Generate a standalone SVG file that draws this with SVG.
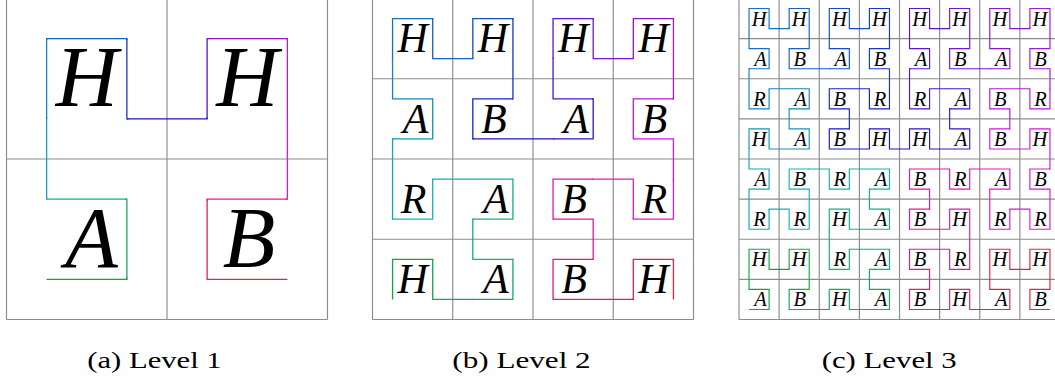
<svg xmlns="http://www.w3.org/2000/svg" width="1055" height="381" viewBox="0 0 1055 381">
<style>
.grid{fill:none;stroke:#8c8c8c;stroke-width:1.15}
.lt{font-family:"Liberation Serif","Times New Roman",serif;font-style:italic;fill:#000;text-anchor:middle}
.s1{font-size:86px}
.s2{font-size:42px}
.s3{font-size:20.5px}
.cap{font-family:"Liberation Serif","Times New Roman",serif;font-size:24px;fill:#000}
.curve{fill:none;stroke-linecap:butt;stroke-linejoin:miter}
.k0{stroke:hsl(138,80%,36%)}.k1{stroke:hsl(145,80%,37%)}.k2{stroke:hsl(152,80%,37%)}.k3{stroke:hsl(159,80%,38%)}
.k4{stroke:hsl(166,80%,38%)}.k5{stroke:hsl(173,80%,39%)}.k6{stroke:hsl(180,80%,39%)}.k7{stroke:hsl(187,80%,40%)}
.k8{stroke:hsl(193,80%,40%)}.k9{stroke:hsl(200,80%,41%)}.k10{stroke:hsl(207,80%,41%)}.k11{stroke:hsl(214,80%,42%)}
.k12{stroke:hsl(221,80%,42%)}.k13{stroke:hsl(228,80%,43%)}.k14{stroke:hsl(235,80%,43%)}.k15{stroke:hsl(242,80%,44%)}
.k16{stroke:hsl(248,80%,44%)}.k17{stroke:hsl(255,80%,45%)}.k18{stroke:hsl(262,80%,45%)}.k19{stroke:hsl(269,80%,46%)}
.k20{stroke:hsl(276,80%,46%)}.k21{stroke:hsl(283,80%,47%)}.k22{stroke:hsl(290,80%,47%)}.k23{stroke:hsl(297,80%,48%)}
.k24{stroke:hsl(303,80%,48%)}.k25{stroke:hsl(310,80%,49%)}.k26{stroke:hsl(317,80%,49%)}.k27{stroke:hsl(324,80%,50%)}
.k28{stroke:hsl(331,80%,50%)}.k29{stroke:hsl(338,80%,51%)}.k30{stroke:hsl(345,80%,51%)}.k31{stroke:hsl(352,80%,52%)}
</style>
<defs>
<path id="h2" pathLength="15" d="M0 0h1v-1h-1v-1v-1h1v1h1v-1h1v1v1h-1v1h1"/>
<path id="h3" pathLength="63" d="M0 0v-1h1v1h1h1v-1h-1v-1h1v-1h-1h-1v1h-1v-1 v-1 h1v-1h-1v-1v-1h1v1h1v-1h1v1v1h-1v1h1 h1 h1v-1h-1v-1v-1h1v1h1v-1h1v1v1h-1v1h1 v1 v1h-1v-1h-1h-1v1h1v1h-1v1h1h1v-1h1v1"/>
<path id="h4" pathLength="255" d="M0 0h1v-1h-1v-1v-1h1v1h1v-1h1v1v1h-1v1h1 h1 v-1h1v1h1h1v-1h-1v-1h1v-1h-1h-1v1h-1v-1 v-1 v-1h1v1h1h1v-1h-1v-1h1v-1h-1h-1v1h-1v-1 h-1 h-1v1h1v1v1h-1v-1h-1v1h-1v-1v-1h1v-1h-1 v-1 v-1h1v1h1h1v-1h-1v-1h1v-1h-1h-1v1h-1v-1 v-1 h1v-1h-1v-1v-1h1v1h1v-1h1v1v1h-1v1h1 h1 h1v-1h-1v-1v-1h1v1h1v-1h1v1v1h-1v1h1 v1 v1h-1v-1h-1h-1v1h1v1h-1v1h1h1v-1h1v1 h1 v-1h1v1h1h1v-1h-1v-1h1v-1h-1h-1v1h-1v-1 v-1 h1v-1h-1v-1v-1h1v1h1v-1h1v1v1h-1v1h1 h1 h1v-1h-1v-1v-1h1v1h1v-1h1v1v1h-1v1h1 v1 v1h-1v-1h-1h-1v1h1v1h-1v1h1h1v-1h1v1 v1 h-1v1h1v1v1h-1v-1h-1v1h-1v-1v-1h1v-1h-1 h-1 v1h-1v-1h-1h-1v1h1v1h-1v1h1h1v-1h1v1 v1 v1h-1v-1h-1h-1v1h1v1h-1v1h1h1v-1h1v1 h1 h1v-1h-1v-1v-1h1v1h1v-1h1v1v1h-1v1h1"/>
</defs>

<g id="panel-a">
<path class="grid" d="M6.5 -1.5V319.5M167 -1.5V319.5M327.5 -1.5V319.5M6.5 -1.5H327.5M6.5 159H327.5M6.5 319.5H327.5"/>
<g id="curve-a" class="curve" transform="translate(46.625 279.375) scale(80.25)" stroke-width="0.0162">
<use href="#h2" class="k0" stroke-dasharray="0 0 1.02 100"/>
<use href="#h2" class="k2" stroke-dasharray="0 1 1.02 100"/>
<use href="#h2" class="k4" stroke-dasharray="0 2 1.02 100"/>
<use href="#h2" class="k7" stroke-dasharray="0 3 1.02 100"/>
<use href="#h2" class="k9" stroke-dasharray="0 4 1.02 100"/>
<use href="#h2" class="k11" stroke-dasharray="0 5 1.02 100"/>
<use href="#h2" class="k13" stroke-dasharray="0 6 1.02 100"/>
<use href="#h2" class="k15" stroke-dasharray="0 7 1.02 100"/>
<use href="#h2" class="k18" stroke-dasharray="0 8 1.02 100"/>
<use href="#h2" class="k20" stroke-dasharray="0 9 1.02 100"/>
<use href="#h2" class="k22" stroke-dasharray="0 10 1.02 100"/>
<use href="#h2" class="k24" stroke-dasharray="0 11 1.02 100"/>
<use href="#h2" class="k27" stroke-dasharray="0 12 1.02 100"/>
<use href="#h2" class="k29" stroke-dasharray="0 13 1.02 100"/>
<use href="#h2" class="k31" stroke-dasharray="0 14 1.02 100"/>
</g>
<g id="letters-a" class="lt s1">
<text x="86.75" y="106.4">H</text>
<text x="247.25" y="106.4">H</text>
<text x="91.5" y="266.9">A</text>
<text x="249" y="266.9">B</text>
</g>
<text class="cap" x="87.3" y="367.7" textLength="134.4" lengthAdjust="spacingAndGlyphs">(a) Level 1</text>
</g>

<g id="panel-b">
<path class="grid" d="M372.5 -1.5V319.5M452.75 -1.5V319.5M533 -1.5V319.5M613.25 -1.5V319.5M693.5 -1.5V319.5M372.5 -1.5H693.5M372.5 78.75H693.5M372.5 159H693.5M372.5 239.25H693.5M372.5 319.5H693.5"/>
<g id="curve-b" class="curve" transform="translate(392.5625 299.4375) scale(40.125)" stroke-width="0.0324">
<use href="#h3" class="k0" stroke-dasharray="0 0 2.03 200"/>
<use href="#h3" class="k1" stroke-dasharray="0 2 2.03 200"/>
<use href="#h3" class="k2" stroke-dasharray="0 4 2.03 200"/>
<use href="#h3" class="k3" stroke-dasharray="0 6 2.03 200"/>
<use href="#h3" class="k4" stroke-dasharray="0 8 2.03 200"/>
<use href="#h3" class="k5" stroke-dasharray="0 10 2.03 200"/>
<use href="#h3" class="k6" stroke-dasharray="0 12 2.03 200"/>
<use href="#h3" class="k7" stroke-dasharray="0 14 2.03 200"/>
<use href="#h3" class="k8" stroke-dasharray="0 16 2.03 200"/>
<use href="#h3" class="k9" stroke-dasharray="0 18 2.03 200"/>
<use href="#h3" class="k10" stroke-dasharray="0 20 2.03 200"/>
<use href="#h3" class="k11" stroke-dasharray="0 22 2.03 200"/>
<use href="#h3" class="k12" stroke-dasharray="0 24 2.03 200"/>
<use href="#h3" class="k13" stroke-dasharray="0 26 2.03 200"/>
<use href="#h3" class="k14" stroke-dasharray="0 28 2.03 200"/>
<use href="#h3" class="k15" stroke-dasharray="0 30 2.03 200"/>
<use href="#h3" class="k16" stroke-dasharray="0 32 2.03 200"/>
<use href="#h3" class="k17" stroke-dasharray="0 34 2.03 200"/>
<use href="#h3" class="k18" stroke-dasharray="0 36 2.03 200"/>
<use href="#h3" class="k19" stroke-dasharray="0 38 2.03 200"/>
<use href="#h3" class="k20" stroke-dasharray="0 40 2.03 200"/>
<use href="#h3" class="k21" stroke-dasharray="0 42 2.03 200"/>
<use href="#h3" class="k22" stroke-dasharray="0 44 2.03 200"/>
<use href="#h3" class="k23" stroke-dasharray="0 46 2.03 200"/>
<use href="#h3" class="k24" stroke-dasharray="0 48 2.03 200"/>
<use href="#h3" class="k25" stroke-dasharray="0 50 2.03 200"/>
<use href="#h3" class="k26" stroke-dasharray="0 52 2.03 200"/>
<use href="#h3" class="k27" stroke-dasharray="0 54 2.03 200"/>
<use href="#h3" class="k28" stroke-dasharray="0 56 2.03 200"/>
<use href="#h3" class="k29" stroke-dasharray="0 58 2.03 200"/>
<use href="#h3" class="k30" stroke-dasharray="0 60 2.03 200"/>
<use href="#h3" class="k31" stroke-dasharray="0 62 2.03 200"/>
</g>
<g id="letters-b" class="lt s2">
<text x="412.63" y="52.4">H</text><text x="492.88" y="52.4">H</text><text x="573.13" y="52.4">H</text><text x="653.38" y="52.4">H</text>
<text x="415.5" y="132.7">A</text><text x="493.9" y="132.7">B</text><text x="576" y="132.7">A</text><text x="654.4" y="132.7">B</text>
<text x="413.6" y="212.9">R</text><text x="495.8" y="212.9">A</text><text x="574.1" y="212.9">B</text><text x="654.4" y="212.9">R</text>
<text x="412.63" y="293.2">H</text><text x="495.8" y="293.2">A</text><text x="574.1" y="293.2">B</text><text x="653.38" y="293.2">H</text>
</g>
<text class="cap" x="452.3" y="367.7" textLength="138.4" lengthAdjust="spacingAndGlyphs">(b) Level 2</text>
</g>

<g id="panel-c">
<path class="grid" d="M739 -1.5V319.5M779.125 -1.5V319.5M819.25 -1.5V319.5M859.375 -1.5V319.5M899.5 -1.5V319.5M939.625 -1.5V319.5M979.75 -1.5V319.5M1019.875 -1.5V319.5M1060 -1.5V319.5M739 -1.5H1060M739 38.625H1060M739 78.75H1060M739 118.875H1060M739 159H1060M739 199.125H1060M739 239.25H1060M739 279.375H1060M739 319.5H1060"/>
<g id="curve-c" class="curve" transform="translate(749.03125 309.46875) scale(20.0625)" stroke-width="0.0573">
<use href="#h4" class="k0" stroke-dasharray="0 0 8.05 600"/>
<use href="#h4" class="k1" stroke-dasharray="0 8 8.05 600"/>
<use href="#h4" class="k2" stroke-dasharray="0 16 8.05 600"/>
<use href="#h4" class="k3" stroke-dasharray="0 24 8.05 600"/>
<use href="#h4" class="k4" stroke-dasharray="0 32 8.05 600"/>
<use href="#h4" class="k5" stroke-dasharray="0 40 8.05 600"/>
<use href="#h4" class="k6" stroke-dasharray="0 48 8.05 600"/>
<use href="#h4" class="k7" stroke-dasharray="0 56 8.05 600"/>
<use href="#h4" class="k8" stroke-dasharray="0 64 8.05 600"/>
<use href="#h4" class="k9" stroke-dasharray="0 72 8.05 600"/>
<use href="#h4" class="k10" stroke-dasharray="0 80 8.05 600"/>
<use href="#h4" class="k11" stroke-dasharray="0 88 8.05 600"/>
<use href="#h4" class="k12" stroke-dasharray="0 96 8.05 600"/>
<use href="#h4" class="k13" stroke-dasharray="0 104 8.05 600"/>
<use href="#h4" class="k14" stroke-dasharray="0 112 8.05 600"/>
<use href="#h4" class="k15" stroke-dasharray="0 120 8.05 600"/>
<use href="#h4" class="k16" stroke-dasharray="0 128 8.05 600"/>
<use href="#h4" class="k17" stroke-dasharray="0 136 8.05 600"/>
<use href="#h4" class="k18" stroke-dasharray="0 144 8.05 600"/>
<use href="#h4" class="k19" stroke-dasharray="0 152 8.05 600"/>
<use href="#h4" class="k20" stroke-dasharray="0 160 8.05 600"/>
<use href="#h4" class="k21" stroke-dasharray="0 168 8.05 600"/>
<use href="#h4" class="k22" stroke-dasharray="0 176 8.05 600"/>
<use href="#h4" class="k23" stroke-dasharray="0 184 8.05 600"/>
<use href="#h4" class="k24" stroke-dasharray="0 192 8.05 600"/>
<use href="#h4" class="k25" stroke-dasharray="0 200 8.05 600"/>
<use href="#h4" class="k26" stroke-dasharray="0 208 8.05 600"/>
<use href="#h4" class="k27" stroke-dasharray="0 216 8.05 600"/>
<use href="#h4" class="k28" stroke-dasharray="0 224 8.05 600"/>
<use href="#h4" class="k29" stroke-dasharray="0 232 8.05 600"/>
<use href="#h4" class="k30" stroke-dasharray="0 240 8.05 600"/>
<use href="#h4" class="k31" stroke-dasharray="0 248 8.05 600"/>
</g>
<g id="letters-c" class="lt s3">
<text x="759.06" y="25.5">H</text><text x="799.19" y="25.5">H</text><text x="839.31" y="25.5">H</text><text x="879.44" y="25.5">H</text><text x="919.56" y="25.5">H</text><text x="959.69" y="25.5">H</text><text x="999.81" y="25.5">H</text><text x="1039.94" y="25.5">H</text>
<text x="760.5" y="65.6">A</text><text x="799.7" y="65.6">B</text><text x="840.7" y="65.6">A</text><text x="879.9" y="65.6">B</text><text x="921" y="65.6">A</text><text x="960.2" y="65.6">B</text><text x="1001.2" y="65.6">A</text><text x="1040.4" y="65.6">B</text>
<text x="759.6" y="105.7">R</text><text x="800.6" y="105.7">A</text><text x="839.8" y="105.7">B</text><text x="879.9" y="105.7">R</text><text x="920" y="105.7">R</text><text x="961.1" y="105.7">A</text><text x="1000.3" y="105.7">B</text><text x="1040.4" y="105.7">R</text>
<text x="759.06" y="145.8">H</text><text x="800.6" y="145.8">A</text><text x="839.8" y="145.8">B</text><text x="879.44" y="145.8">H</text><text x="919.56" y="145.8">H</text><text x="961.1" y="145.8">A</text><text x="1000.3" y="145.8">B</text><text x="1039.94" y="145.8">H</text>
<text x="760.5" y="186">A</text><text x="799.7" y="186">B</text><text x="839.8" y="186">R</text><text x="880.9" y="186">A</text><text x="920" y="186">B</text><text x="960.2" y="186">R</text><text x="1001.2" y="186">A</text><text x="1040.4" y="186">B</text>
<text x="759.6" y="226.1">R</text><text x="799.7" y="226.1">R</text><text x="839.31" y="226.1">H</text><text x="880.9" y="226.1">A</text><text x="920" y="226.1">B</text><text x="959.69" y="226.1">H</text><text x="1000.3" y="226.1">R</text><text x="1040.4" y="226.1">R</text>
<text x="759.06" y="266.2">H</text><text x="799.19" y="266.2">H</text><text x="839.8" y="266.2">R</text><text x="880.9" y="266.2">A</text><text x="920" y="266.2">B</text><text x="960.2" y="266.2">R</text><text x="999.81" y="266.2">H</text><text x="1039.94" y="266.2">H</text>
<text x="760.5" y="306.3">A</text><text x="799.7" y="306.3">B</text><text x="839.31" y="306.3">H</text><text x="880.9" y="306.3">A</text><text x="920" y="306.3">B</text><text x="959.69" y="306.3">H</text><text x="1001.2" y="306.3">A</text><text x="1040.4" y="306.3">B</text>
</g>
<text class="cap" x="821.7" y="367.7" textLength="135" lengthAdjust="spacingAndGlyphs">(c) Level 3</text>
</g>
</svg>
